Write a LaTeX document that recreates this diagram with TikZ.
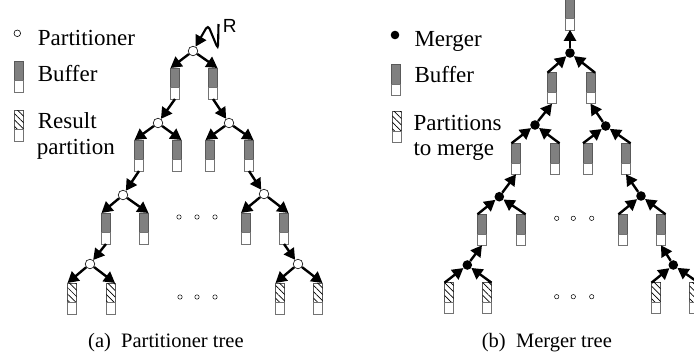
\documentclass[tikz,border=0pt]{standalone}
\usepackage{fontspec}
\setmainfont{Liberation Serif}
\newfontfamily\rfont{Liberation Sans}
\usetikzlibrary{arrows.meta,patterns.meta}
\tikzset{
 gpart/.style={rectangle, anchor=north, minimum width=9pt, minimum height=19.5pt, inner sep=0pt, outer sep=0pt, fill=black!50, draw=black!65, line width=0.6pt},
 hpart/.style={gpart, fill=white, draw=black!65, postaction={pattern={Lines[angle=-45,distance=4.5pt,line width=0.7pt]}}},
 wpart/.style={rectangle, anchor=north, minimum width=9pt, minimum height=11.5pt, inner sep=0pt, outer sep=0pt, fill=white, draw=black!55, line width=0.6pt},
 part/.style={circle, draw=black, fill=white, line width=0.6pt, minimum size=9.6pt, inner sep=0pt},
 merg/.style={circle, fill=black, minimum size=9.6pt, inner sep=0pt},
 dotc/.style={circle, draw=black, line width=0.5pt, minimum size=4.4pt, inner sep=0pt},
 arr/.style={line width=2.4pt, -{Triangle[length=11pt,width=12pt]}},
 lab/.style={font=\fontsize{23}{26}\selectfont, anchor=base west, inner sep=0pt},
 captxt/.style={font=\fontsize{20.5}{24}\selectfont, anchor=base west, inner sep=0pt},
}
\newcommand\mybuf[3]{\node[gpart] (#1t) at (#2,#3) {}; \node[wpart] (#1) at (#1t.south) {};}
\newcommand\myres[3]{\node[hpart] (#1t) at (#2,#3) {}; \node[wpart] (#1) at (#1t.south) {};}
\begin{document}
\begin{tikzpicture}[x=1pt,y=-1pt]
\useasboundingbox (0,0) rectangle (694,360);
% ---------- left legend ----------
\node[part, minimum size=6.6pt] (lgp) at (17.3,33.3) {};
\node[lab] (lgpt) at (37.7,45) {Partitioner};
\mybuf{lgb}{19}{61}
\node[lab] (lgbt) at (37.7,81) {Buffer};
\myres{lgr}{19}{110}
\node[lab] (lgrt1) at (37.7,128) {Result};
\node[lab] (lgrt2) at (36.7,154) {partition};
% ---------- left tree ----------
\node[part] (P0) at (193,51) {};
\mybuf{La}{175}{68}
\mybuf{Lb}{213}{68}
\node[part] (P1a) at (158,123) {};
\node[part] (P1b) at (229,123) {};
\mybuf{Laa}{139}{140}
\mybuf{Lab}{177}{140}
\mybuf{Lba}{210}{140}
\mybuf{Lbb}{249}{140}
\node[part] (P2a) at (123,195) {};
\node[part] (P2b) at (264,194) {};
\mybuf{Laaa}{106}{213}
\mybuf{Laab}{144}{213}
\mybuf{Lbba}{245.5}{213}
\mybuf{Lbbb}{284}{213}
\node[part] (P3a) at (90,264) {};
\node[part] (P3b) at (298,264) {};
\myres{Ha}{72}{283}
\myres{Hb}{110.5}{283}
\myres{Hc}{280}{283}
\myres{Hd}{318}{283}
% R input
\coordinate (Rs) at (218.5,24);
\coordinate (Rk1) at (218,49);
\coordinate (Rk2) at (208,25);
\draw[arr, line width=2.1pt, rounded corners=4pt] (Rs) -- (Rk1) -- (Rk2) -- (P0);
\node[font=\rfont\fontsize{19}{22}\selectfont, anchor=base west, inner sep=0pt] (Rl) at (222.7,32.7) {R};
% arrows
\draw[arr] (P0) -- (Lat.north west);
\draw[arr] (P0) -- (Lbt.north east);
\draw[arr] (La.south) -- (P1a);
\draw[arr] (Lb.south) -- (P1b);
\draw[arr] (P1a) -- (Laat.north west);
\draw[arr] (P1a) -- (Labt.north east);
\draw[arr] (P1b) -- (Lbat.north west);
\draw[arr] (P1b) -- (Lbbt.north east);
\draw[arr] (Laa.south) -- (P2a);
\draw[arr] (Lbb.south) -- (P2b);
\draw[arr] (P2a) -- (Laaat.north west);
\draw[arr] (P2a) -- (Laabt.north east);
\draw[arr] (P2b) -- (Lbbat.north west);
\draw[arr] (P2b) -- (Lbbbt.north east);
\draw[arr] (Laaa.south) -- (P3a);
\draw[arr] (Lbbb.south) -- (P3b);
\draw[arr] (P3a) -- (Hat.north west);
\draw[arr] (P3a) -- (Hbt.north east);
\draw[arr] (P3b) -- (Hct.north west);
\draw[arr] (P3b) -- (Hdt.north east);
% dots
\node[dotc] (ld1) at (179,217) {};
\node[dotc] (ld2) at (197,217) {};
\node[dotc] (ld3) at (215,217) {};
\node[dotc] (ld4) at (180,297) {};
\node[dotc] (ld5) at (197,297) {};
\node[dotc] (ld6) at (215,297) {};
\node[captxt] (capa) at (88,347.5) {(a)\hspace{0.5em}Partitioner tree};
% ---------- right legend ----------
\node[merg, minimum size=8.6pt] (lgm) at (395,35) {};
\node[lab] (lgmt) at (414.3,46.7) {Merger};
\mybuf{lgb2}{396}{64.3}
\node[lab] (lgbt2) at (414.3,82) {Buffer};
\myres{lgr2}{396.8}{111.7}
\node[lab] (lgrt3) at (413.3,130) {Partitions};
\node[lab] (lgrt4) at (413.3,155.7) {to merge};
% ---------- right tree ----------
\mybuf{T}{570}{-1.2}
\node[merg] (M0) at (570,53) {};
\mybuf{Ra}{552}{72.7}
\mybuf{Rb}{590.5}{72.7}
\node[merg] (M1a) at (535,125) {};
\node[merg] (M1b) at (605.7,126) {};
\mybuf{Raa}{516}{143.3}
\mybuf{Rab}{555}{143.3}
\mybuf{Rba}{587.5}{143.3}
\mybuf{Rbb}{626}{143.3}
\node[merg] (M2a) at (499.3,196.7) {};
\node[merg] (M2b) at (641,196) {};
\mybuf{Raaa}{482}{214.3}
\mybuf{Raab}{521}{214.3}
\mybuf{Rbba}{623}{214.3}
\mybuf{Rbbb}{661}{214.3}
\node[merg] (M3a) at (467.3,265) {};
\node[merg] (M3b) at (673.3,265) {};
\myres{Ga}{449}{282.7}
\myres{Gb}{487}{282.7}
\myres{Gc}{656}{282.7}
\myres{Gd}{694}{282.7}
\draw[arr] (M0) -- (T.south);
\draw[arr] (Rat.north west) -- (M0);
\draw[arr] (Rbt.north east) -- (M0);
\draw[arr] (M1a) -- (Ra.south);
\draw[arr] (M1b) -- (Rb.south);
\draw[arr] (Raat.north west) -- (M1a);
\draw[arr] (Rabt.north east) -- (M1a);
\draw[arr] (Rbat.north west) -- (M1b);
\draw[arr] (Rbbt.north east) -- (M1b);
\draw[arr] (M2a) -- (Raa.south);
\draw[arr] (M2b) -- (Rbb.south);
\draw[arr] (Raaat.north west) -- (M2a);
\draw[arr] (Raabt.north east) -- (M2a);
\draw[arr] (Rbbat.north west) -- (M2b);
\draw[arr] (Rbbbt.north east) -- (M2b);
\draw[arr] (M3a) -- (Raaa.south);
\draw[arr] (M3b) -- (Rbbb.south);
\draw[arr] (Gat.north west) -- (M3a);
\draw[arr] (Gbt.north east) -- (M3a);
\draw[arr] (Gct.north west) -- (M3b);
\draw[arr] (Gdt.north east) -- (M3b);
\node[dotc] (rd1) at (556.7,218.3) {};
\node[dotc] (rd2) at (573.3,218.3) {};
\node[dotc] (rd3) at (591.7,218.3) {};
\node[dotc] (rd4) at (556.7,296.7) {};
\node[dotc] (rd5) at (573.3,296.7) {};
\node[dotc] (rd6) at (591.7,296.7) {};
\node[captxt] (capb) at (481.7,347.5) {(b)\hspace{0.5em}Merger tree};
\end{tikzpicture}
\end{document}
